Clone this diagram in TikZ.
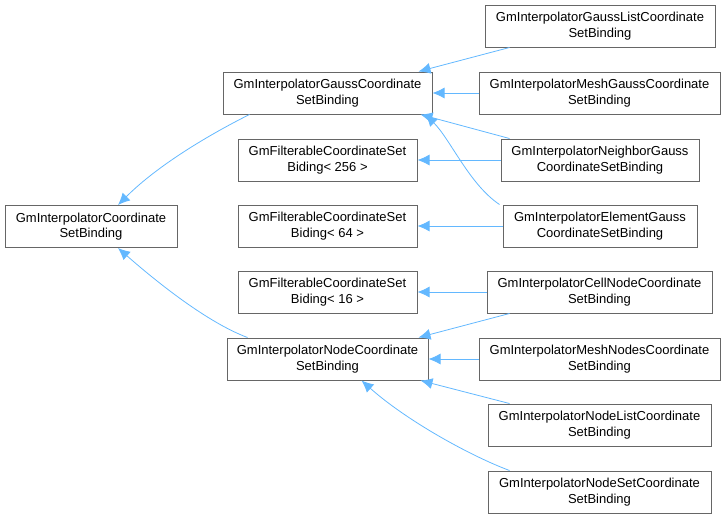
\documentclass[tikz,border=0pt]{standalone}
\usepackage{fontspec}
\setmainfont{Liberation Sans}
\usetikzlibrary{arrows.meta}
\definecolor{edgeblue}{HTML}{63B8FF}
\definecolor{boxgray}{HTML}{666666}
\tikzset{
  cls/.style={draw=boxgray, line width=1pt, fill=white, align=center, inner sep=0pt,
    minimum height=42pt, font=\fontsize{13}{15.5}\selectfont, text=black},
  inh/.style={draw=edgeblue, line width=0.8pt, -{Latex[length=12pt,width=11pt]}},
}
\begin{document}
\begin{tikzpicture}[x=1pt,y=-1pt]
\useasboundingbox (0,0) rectangle (726,520);
% left
\node[cls, minimum width=172pt] (coord) at (91,226.5) {GmInterpolatorCoordinate\\SetBinding};
% middle
\node[cls, minimum width=209pt] (gauss) at (327.5,93) {GmInterpolatorGaussCoordinate\\SetBinding};
\node[cls, minimum width=179pt] (b256) at (327.5,160) {GmFilterableCoordinateSet\\Biding< 256 >};
\node[cls, minimum width=179pt] (b64) at (327.5,226) {GmFilterableCoordinateSet\\Biding< 64 >};
\node[cls, minimum width=179pt] (b16) at (327.5,292) {GmFilterableCoordinateSet\\Biding< 16 >};
\node[cls, minimum width=201pt] (nodec) at (327.5,359) {GmInterpolatorNodeCoordinate\\SetBinding};
% right
\node[cls, minimum width=230pt] (glist) at (600,26) {GmInterpolatorGaussListCoordinate\\SetBinding};
\node[cls, minimum width=241pt] (mgauss) at (599.5,93) {GmInterpolatorMeshGaussCoordinate\\SetBinding};
\node[cls, minimum width=198pt] (neigh) at (600,160) {GmInterpolatorNeighborGauss\\CoordinateSetBinding};
\node[cls, minimum width=194pt] (elem) at (600,226) {GmInterpolatorElementGauss\\CoordinateSetBinding};
\node[cls, minimum width=225pt] (cell) at (599.5,292) {GmInterpolatorCellNodeCoordinate\\SetBinding};
\node[cls, minimum width=241pt] (mnodes) at (599.5,359) {GmInterpolatorMeshNodesCoordinate\\SetBinding};
\node[cls, minimum width=223pt] (nlist) at (599.5,425) {GmInterpolatorNodeListCoordinate\\SetBinding};
\node[cls, minimum width=223pt] (nset) at (599.5,492) {GmInterpolatorNodeSetCoordinate\\SetBinding};
% edges
\draw[inh] ([xshift=27pt]gauss.south west) .. controls +(-40,20) and +(40,-40) .. ([xshift=27pt]coord.north);
\draw[inh] ([xshift=21pt]nodec.north west) .. controls +(-40,-15) and +(40,35) .. ([xshift=27pt]coord.south);
\draw[inh] ([xshift=25pt]glist.south west) -- ([xshift=-14pt]gauss.north east);
\draw[inh] (mgauss.west) -- (gauss.east);
\draw[inh] ([xshift=9pt]neigh.north west) -- ([xshift=-12pt]gauss.south east);
\draw[inh] ([xshift=-3pt]elem.north west) .. controls +(-30,-20) and +(25,25) .. ([xshift=-7pt]gauss.south east);
\draw[inh] (neigh.west) -- (b256.east);
\draw[inh] (elem.west) -- (b64.east);
\draw[inh] (cell.west) -- (b16.east);
\draw[inh] ([xshift=23pt]cell.south west) -- ([xshift=-10pt]nodec.north east);
\draw[inh] (mnodes.west) -- (nodec.east);
\draw[inh] ([xshift=22pt]nlist.north west) -- ([xshift=-8pt]nodec.south east);
\draw[inh] ([xshift=22pt]nset.north west) .. controls +(-40,-15) and +(45,40) .. ([xshift=34pt]nodec.south);
\end{tikzpicture}
\end{document}
